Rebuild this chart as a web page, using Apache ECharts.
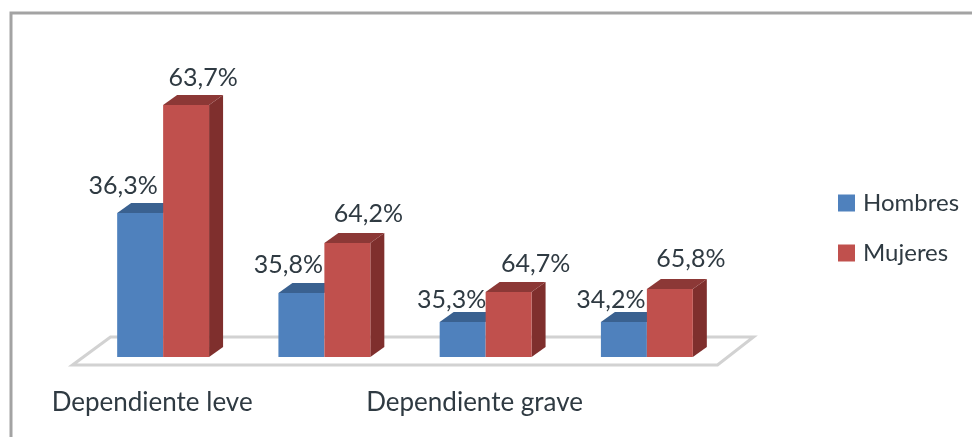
<!DOCTYPE html>
<html>
<head>
<meta charset="utf-8">
<style>
  html, body { margin: 0; padding: 0; background: #fff; }
  #main { width: 972px; height: 437px; }
</style>
<script src="https://cdn.jsdelivr.net/npm/echarts@6/dist/echarts.min.js"></script>
</head>
<body>
<div id="main"></div>
<script>
// the bar heights do not follow the percentages in the source, so both are kept
const categories = ['Dependiente leve', 'Dependiente moderado', 'Dependiente grave', 'Dependiente total'];
const hombres = [144, 64, 35, 35];
const mujeres = [252, 114, 65, 68];
const hombresLabels = ['36,3%', '35,8%', '35,3%', '34,2%'];
const mujeresLabels = ['63,7%', '64,2%', '64,7%', '65,8%'];

// layout only: fake 3d depth and where each label sits relative to its bar
const depthX = 14, depthY = 10;
const barRatio = 0.285;
const hombresNudge = [[-17, -27], [-13, -28], [-11, -22], [-13, -22]];
const mujeresNudge = [[17, -27], [21, -29], [27, -28], [21, -30]];
const textFont = 'Lato, "Open Sans", sans-serif';

function barSeries(name, values, labels, nudge, side, colors) {
  return {
    name: name,
    type: 'custom',
    itemStyle: { color: colors.front },
    encode: { x: 0, y: 1 },
    data: values.map((v, i) => [i, v]),
    renderItem: function (params, api) {
      const i = api.value(0);
      const base = api.coord([i, 0]);
      const top = api.coord([i, api.value(1)]);
      const w = api.size([1, 0])[0] * barRatio;
      const x0 = side < 0 ? base[0] - w : base[0];
      const x1 = x0 + w;
      const n = nudge[params.dataIndex];
      return {
        type: 'group',
        children: [
          {
            type: 'polygon',
            shape: { points: [[x1, top[1]], [x1 + depthX, top[1] - depthY], [x1 + depthX, base[1] - depthY], [x1, base[1]]] },
            style: { fill: colors.side }
          },
          {
            type: 'polygon',
            shape: { points: [[x0, top[1]], [x0 + depthX, top[1] - depthY], [x1 + depthX, top[1] - depthY], [x1, top[1]]] },
            style: { fill: colors.top }
          },
          {
            type: 'rect',
            shape: { x: x0, y: top[1], width: w, height: base[1] - top[1] },
            style: { fill: colors.front }
          },
          {
            type: 'text',
            z2: 20,
            style: {
              x: (x0 + x1) / 2 + n[0],
              y: top[1] + n[1],
              text: labels[params.dataIndex],
              align: 'center',
              verticalAlign: 'middle',
              fill: '#2f3a42',
              font: '25px ' + textFont
            }
          }
        ]
      };
    }
  };
}

const chart = echarts.init(document.getElementById('main'), null, { renderer: 'canvas' });

chart.setOption({
  animation: false,
  backgroundColor: '#fff',
  grid: { left: 82.5, right: 244.5, top: 57, bottom: 80 },
  xAxis: {
    type: 'category',
    data: categories,
    axisLine: { show: false },
    axisTick: { show: false },
    axisLabel: {
      interval: 1,
      margin: 33,
      padding: [0, 22, 0, 0],
      color: '#2f3a42',
      fontFamily: textFont,
      fontSize: 26
    }
  },
  yAxis: { type: 'value', min: 0, max: 300, show: false },
  legend: {
    orient: 'vertical',
    left: 833,
    top: 186,
    itemWidth: 17,
    itemHeight: 17,
    itemGap: 26,
    icon: 'rect',
    data: ['Hombres', 'Mujeres'],
    textStyle: { color: '#2f3a42', fontFamily: textFont, fontSize: 24, padding: [0, 0, 0, 3] }
  },
  // frame of the pasted picture
  graphic: [{
    type: 'polyline',
    silent: true,
    shape: { points: [[11, 437], [11, 13], [972, 13]] },
    style: { stroke: '#a3a3a3', lineWidth: 3, fill: null }
  }],
  series: [
    {
      name: 'floor',
      type: 'custom',
      silent: true,
      z: 1,
      data: [0],
      renderItem: function (params) {
        const g = params.coordSys;
        const front = g.y + g.height + 8;
        const back = g.y + g.height - 20;
        return {
          type: 'polygon',
          shape: { points: [[g.x - 10, front], [g.x + 28, back], [g.x + g.width + 26, back], [g.x + g.width - 10, front]] },
          style: { fill: '#fff', stroke: '#d2d2d2', lineWidth: 3 }
        };
      }
    },
    barSeries('Hombres', hombres, hombresLabels, hombresNudge, -1, { front: '#4f81bd', top: '#3a6190' }),
    barSeries('Mujeres', mujeres, mujeresLabels, mujeresNudge, 1, { front: '#c0504d', top: '#8c3836', side: '#7f2f2d' })
  ]
});
</script>
</body>
</html>
